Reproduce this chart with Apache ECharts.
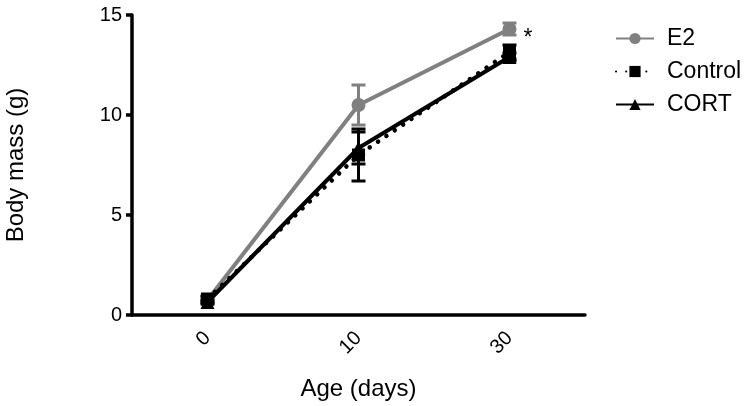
<!DOCTYPE html>
<html><head><meta charset="utf-8">
<script src="https://cdn.jsdelivr.net/npm/echarts@6/dist/echarts.min.js"></script>
<style>html,body{margin:0;padding:0;background:#fff}#c{width:747px;height:406px}</style>
</head><body><div id="c"></div>
<script>
const categories = ['0', '10', '30'];
const e2Mean = [0.75, 10.5, 14.3];
const e2Err = [0.15, 1.0, 0.3];
const controlMean = [0.8, 8.0, 13.15];
const controlErr = [0.15, 1.3, 0.35];
const cortMean = [0.65, 8.35, 12.9];
const cortErr = [0.1, 0.8, 0.2];
const yTicks = [0, 5, 10, 15];

const FONT = 'Liberation Sans, Arial, sans-serif';

function errSeries(name, means, errs, color, z) {
  return {
    name: name + ' err', type: 'custom', z: z, silent: true,
    data: means.map((m, i) => [i, m - errs[i], m + errs[i]]),
    renderItem: function (params, api) {
      const lo = api.coord([api.value(0), api.value(1)]);
      const hi = api.coord([api.value(0), api.value(2)]);
      const w = 7;
      const st = { stroke: color, lineWidth: 3, fill: null };
      return { type: 'group', children: [
        { type: 'line', shape: { x1: lo[0], y1: lo[1], x2: hi[0], y2: hi[1] }, style: st },
        { type: 'line', shape: { x1: hi[0] - w, y1: hi[1], x2: hi[0] + w, y2: hi[1] }, style: st },
        { type: 'line', shape: { x1: lo[0] - w, y1: lo[1], x2: lo[0] + w, y2: lo[1] }, style: st }
      ]};
    }
  };
}

const chart = echarts.init(document.getElementById('c'));
chart.setOption({
  animation: false,
  backgroundColor: '#fff',
  grid: { left: 132, right: 162, top: 15, bottom: 91, containLabel: false, outerBoundsMode: 'none' },
  legend: {
    orient: 'vertical', left: 610, top: 22, itemGap: 10, itemWidth: 38, itemHeight: 14,
    textStyle: { fontFamily: FONT, fontSize: 23, color: '#000', padding: [0, 0, 0, 8] },
    data: ['E2', 'Control', 'CORT']
  },
  xAxis: {
    type: 'category', data: categories, boundaryGap: true,
    name: 'Age (days)', nameLocation: 'middle', nameGap: 62,
    nameTextStyle: { fontFamily: FONT, fontSize: 24, color: '#000' },
    axisLine: { lineStyle: { color: '#000', width: 3.5 } },
    axisTick: { alignWithLabel: true, length: 7, lineStyle: { color: '#000', width: 3.5 } },
    axisLabel: { rotate: 45, fontFamily: FONT, fontSize: 20, color: '#000', margin: 20 }
  },
  yAxis: {
    type: 'value', min: yTicks[0], max: yTicks[yTicks.length - 1], interval: 5,
    name: 'Body mass (g)', nameLocation: 'middle', nameGap: 104,
    nameTextStyle: { fontFamily: FONT, fontSize: 24, color: '#000' },
    splitLine: { show: false },
    axisLine: { show: true, lineStyle: { color: '#000', width: 3.5 } },
    axisTick: { show: true, length: 6, lineStyle: { color: '#000', width: 3.5 } },
    axisLabel: { fontFamily: FONT, fontSize: 20, color: '#000', margin: 10 }
  },
  series: [
    errSeries('E2', e2Mean, e2Err, '#808080', 2),
    errSeries('Control', controlMean, controlErr, '#000', 3),
    errSeries('CORT', cortMean, cortErr, '#000', 4),
    {
      name: 'E2', type: 'line', data: e2Mean, z: 2,
      symbol: 'circle', symbolSize: 14,
      itemStyle: { color: '#808080' },
      lineStyle: { color: '#808080', width: 4 },
      label: {
        show: true, position: 'right', distance: 7, offset: [0, 10], fontFamily: FONT, fontSize: 23, color: '#000',
        formatter: p => p.dataIndex === 2 ? '*' : ''
      }
    },
    {
      name: 'Control', type: 'line', data: controlMean, z: 3,
      symbol: 'rect', symbolSize: 13,
      itemStyle: { color: '#000' },
      lineStyle: { color: '#000', width: 4.5, type: [0.1, 10], cap: 'round' }
    },
    {
      name: 'CORT', type: 'line', data: cortMean, z: 4,
      symbol: 'triangle', symbolSize: 14,
      itemStyle: { color: '#000' },
      lineStyle: { color: '#000', width: 4 }
    }
  ]
});
</script></body></html>
